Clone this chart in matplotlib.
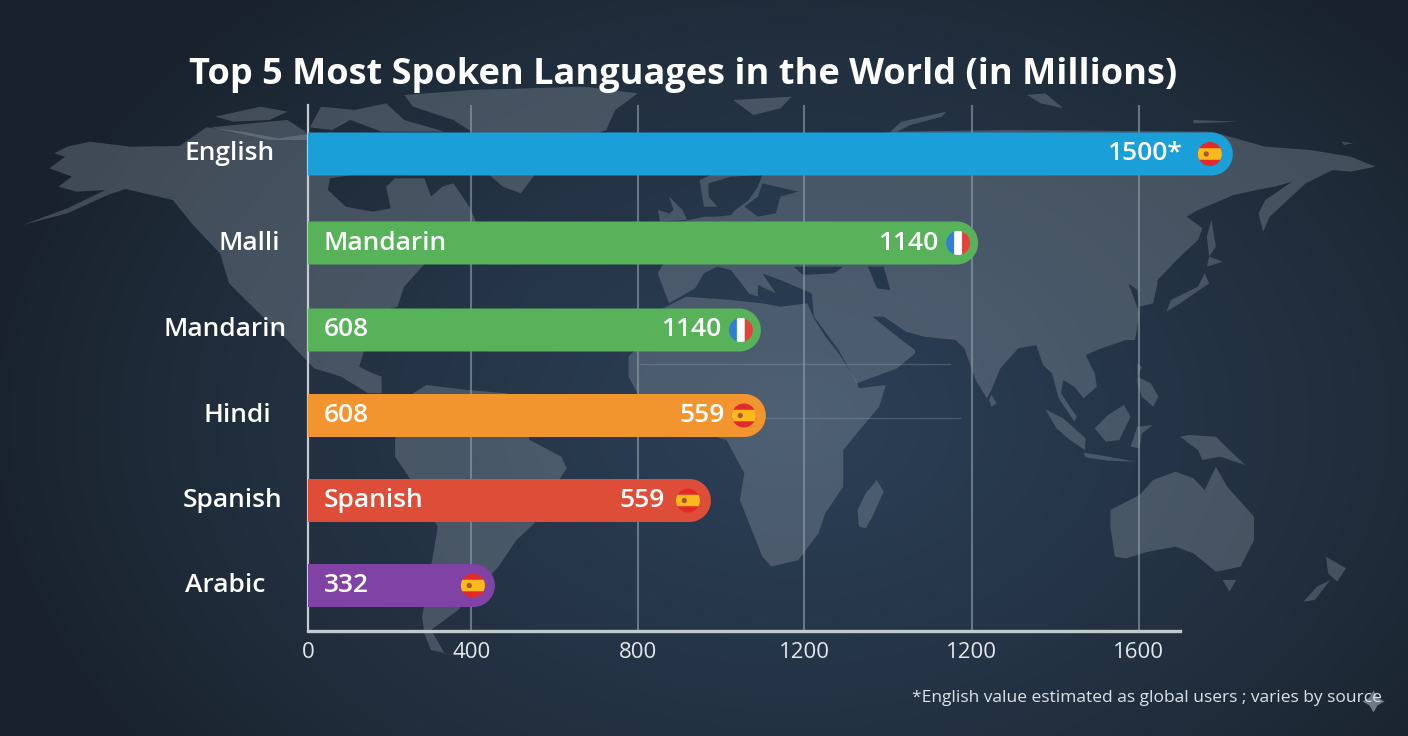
import numpy as np
import matplotlib
matplotlib.use('Agg')
import matplotlib.pyplot as plt
from matplotlib.path import Path
from matplotlib.patches import Circle, Polygon, PathPatch
from matplotlib.transforms import IdentityTransform

plt.rcParams['font.family'] = ['Open Sans', 'DejaVu Sans']

# chart values
languages = ['English', 'Malli', 'Mandarin', 'Hindi', 'Spanish', 'Arabic']
bar_lengths = [2222, 1610, 1088, 1100, 968, 449]
inner_labels = ['', 'Mandarin', '608', '608', 'Spanish', '332']
value_labels = ['1500*', '1140', '1140', '559', '559', '']
flags = ['es', 'fr', 'fr', 'es', 'es', 'es']
bar_colors = ['#1a9fd9', '#58b25a', '#58b25a', '#f2952f', '#dd4d38', '#8043a5']
tick_positions = [0, 392, 793, 1192, 1595, 1996]
tick_labels = ['0', '400', '800', '1200', '1200', '1600']

title = 'Top 5 Most Spoken Languages in the World (in Millions)'
footnote = '*English value estimated as global users ; varies by source'

# layout in pixels of the 1408x736 image
W, H = 1408, 736
bar_y = [154, 243, 330, 415.5, 500.5, 585.5]
label_x = [230, 249, 225, 237, 232, 225]
label_gap = [28, 20, 20, 19, 23, 0]
flag_gap = [23, 20, 20, 22, 23, 22]


def trace(x0, y0, pts):
    # polygons were traced on zoomed crops: x scale 2.227, y scale 3
    return [(x0 + x / 2.227, y0 + y / 3.0) for x, y in pts]


# world map, origin of the crop each outline was read from
m4 = lambda pts: trace(0, 40, pts)
m5 = lambda pts: trace(704, 40, pts)
m6 = lambda pts: trace(704, 340, pts)
m7 = lambda pts: trace(0, 340, pts)

land = [
    # north america
    m4([(110, 385), (145, 350), (120, 340), (150, 320), (200, 305), (290, 320), (400, 318), (460, 262), (540, 275),
        (620, 295), (700, 280), (1000, 300), (900, 380), (735, 415), (730, 450), (770, 500), (830, 515), (870, 505),
        (860, 440), (880, 415), (945, 415), (960, 470), (985, 440), (1010, 430), (1045, 500), (1060, 545), (940, 680),
        (900, 740), (885, 800), (860, 810), (835, 900), (810, 935), (800, 980), (830, 1000), (850, 1010), (850, 1060),
        (820, 1060), (760, 1010), (700, 985), (660, 930), (640, 900), (585, 830), (510, 730), (490, 640), (430, 555),
        (385, 480), (280, 447), (240, 465), (150, 520), (50, 555), (150, 505), (235, 450), (170, 455), (130, 440),
        (160, 410)]),
    # greenland
    m4([(1050, 275), (1010, 240), (920, 200), (900, 165), (1050, 150), (1300, 140), (1420, 160), (1370, 210),
        (1350, 270), (1290, 300), (1190, 405), (1160, 460), (1120, 440), (1090, 405), (1060, 300)]),
    # arctic islands
    m4([(690, 262), (715, 200), (790, 210), (860, 190), (900, 240), (990, 275), (850, 275), (780, 240), (740, 270)]),
    m4([(480, 230), (580, 200), (640, 215), (600, 240), (520, 245)]),
    m4([(470, 262), (560, 250), (640, 240), (680, 275), (690, 300), (600, 300)]),
    # south america
    m7([(920, 160), (950, 135), (1040, 150), (1130, 160), (1180, 300), (1250, 350), (1262, 385), (1245, 420),
        (1190, 550), (1150, 600), (1110, 680), (1020, 810), (960, 870), (990, 940), (1020, 948), (960, 930), (945, 880),
        (940, 830), (965, 640), (975, 560), (915, 420), (880, 350), (880, 290)]),
    # eurasia
    m5([(-103, 700), (-90, 670), (-60, 640), (-50, 545), (0, 530), (30, 530), (60, 525), (70, 510), (100, 480),
        (120, 440), (130, 405), (60, 410), (10, 430), (10, 470), (30, 500), (0, 500), (-10, 420), (60, 380), (300, 300),
        (420, 275), (680, 270), (1130, 275), (1250, 320), (1350, 330), (1440, 350), (1495, 380), (1440, 395),
        (1400, 390), (1340, 430), (1300, 480), (1260, 530), (1245, 575), (1235, 520), (1250, 480), (1310, 425),
        (1270, 440), (1230, 450), (1180, 465), (1100, 510), (1075, 530), (1110, 565), (1100, 600), (1060, 650),
        (1010, 720), (1010, 730), (1000, 790), (970, 800), (965, 750), (935, 720), (960, 700), (945, 730), (970, 820),
        (960, 900), (940, 900), (885, 925), (850, 945), (870, 1000), (875, 1040), (845, 1075), (825, 1040), (800, 1020),
        (795, 1060), (830, 1130), (825, 1145), (790, 1075), (775, 1000), (755, 975), (740, 915), (700, 925), (660, 985),
        (640, 1050), (630, 1075), (605, 1020), (580, 925), (560, 900), (490, 890), (450, 875), (400, 830), (375, 830),
        (440, 900), (470, 930), (470, 940), (430, 985), (340, 1030), (300, 930), (245, 830), (240, 760), (170, 720),
        (130, 700), (160, 760), (120, 735), (120, 770), (100, 760), (60, 690), (30, 680), (0, 700), (-20, 745),
        (-78, 790)]),
    # africa
    m5([(-98, 810), (-40, 770), (60, 780), (130, 790), (170, 800), (230, 790), (245, 835), (270, 890), (300, 940),
        (340, 1025), (345, 1045), (405, 1035), (390, 1100), (310, 1230), (310, 1340), (270, 1420), (255, 1480),
        (210, 1560), (150, 1580), (130, 1550), (80, 1380), (90, 1300), (50, 1200), (0, 1180), (-60, 1190), (-148, 1060),
        (-168, 1010), (-168, 950), (-118, 880)]),
    # islands
    m4([(1490, 470), (1520, 510), (1530, 540), (1470, 545), (1500, 510)]),
    m4([(1465, 510), (1490, 520), (1470, 545)]),
    m5([(415, 275), (440, 245), (540, 215), (530, 230), (460, 255), (430, 275)]),
    m5([(65, 180), (195, 170), (170, 205), (110, 225)]),
    m5([(720, 165), (760, 160), (800, 205), (750, 190)]),
    m5([(1090, 240), (1190, 245), (1090, 250)]),
    m5([(1420, 305), (1445, 310), (1425, 315)]),
    m5([(1130, 540), (1140, 620), (1125, 650), (1120, 590)]),
    m5([(1125, 650), (1155, 665), (1120, 680)]),
    m5([(1115, 700), (1125, 730), (1060, 790), (1030, 815), (1040, 780), (1100, 740)]),
    m6([(640, 165), (652, 190), (640, 200), (635, 180)]),
    m6([(385, 420), (400, 455), (375, 530), (360, 565), (345, 560), (342, 510), (360, 460)]),
    m6([(760, 208), (800, 235), (850, 295), (848, 330), (815, 300), (785, 265)]),
    m6([(845, 338), (900, 350), (960, 365), (900, 362), (850, 352)]),
    m6([(935, 195), (950, 230), (925, 300), (895, 305), (870, 265), (900, 225)]),
    m6([(965, 260), (1000, 255), (975, 280), (970, 325), (950, 320)]),
    m6([(965, 110), (995, 130), (1012, 170), (1000, 200), (975, 170), (965, 130)]),
    m6([(965, 70), (975, 80), (965, 110)]),
    m6([(1080, 285), (1140, 290), (1170, 330), (1205, 375), (1150, 350), (1110, 360), (1100, 330), (1060, 290)]),
    # australia, tasmania, new zealand
    m6([(905, 510), (970, 465), (1000, 420), (1050, 395), (1090, 415), (1115, 450), (1140, 380), (1165, 440),
        (1225, 530), (1225, 600), (1195, 680), (1140, 695), (1090, 640), (1050, 620), (990, 635), (940, 655),
        (915, 650), (905, 560)]),
    m6([(1155, 720), (1185, 720), (1170, 755)]),
    m6([(1385, 650), (1430, 685), (1410, 725), (1390, 700)]),
    m6([(1395, 720), (1360, 780), (1335, 785), (1365, 740)]),
]

# inland seas, painted back over the land
seas = [
    m5([(90, 500), (120, 470), (130, 430), (210, 455), (170, 470), (160, 520), (120, 530)]),
    m5([(200, 680), (310, 680), (290, 700), (220, 705)]),
    m5([(365, 680), (400, 680), (415, 750), (385, 745)]),
]

fig = plt.figure(figsize=(W / 100, H / 100), dpi=100)

# background glow and map, y runs downward in image pixels
bg = fig.add_axes([0, 0, 1, 1], zorder=0)
bg.set_xlim(0, W)
bg.set_ylim(H, 0)
bg.axis('off')
yy, xx = np.mgrid[0:H, 0:W]
dist = np.sqrt(((xx - 790) / 800.0) ** 2 + ((yy - 420) / 560.0) ** 2)
glow = np.clip(1 - dist, 0, 1)[..., None] ** 0.8
dark = np.array([0x19, 0x22, 0x2c]) / 255.0
light = np.array([0x2c, 0x40, 0x57]) / 255.0
bg.imshow(dark + (light - dark) * glow, extent=(0, W, H, 0), aspect='auto', zorder=0)
for pts in land:
    bg.add_patch(Polygon(pts, closed=True, facecolor='#aab6c0', alpha=0.27, edgecolor='none', zorder=1))
for pts in seas:
    bg.add_patch(Polygon(pts, closed=True, facecolor='#25384c', edgecolor='none', zorder=2))
bg.plot([640, 950], [364, 364], color='#8fa3b3', lw=1, alpha=0.3, zorder=2)
bg.plot([704, 960], [418, 418], color='#8fa3b3', lw=1, alpha=0.3, zorder=2)
bg.plot([1373], [701], marker=(4, 1, 0), ms=16, color='#b7c0c8', alpha=0.55, mew=0, zorder=2)

# the chart itself, x in axis units and y in image pixels
ax = fig.add_axes([308 / W, (H - 631) / H, 872 / W, 526 / H], zorder=1)
ax.patch.set_alpha(0)
ax.set_xlim(0, 2095)
ax.set_ylim(631, 105)
ax.set_yticks([])
ax.set_xticks(tick_positions)
ax.set_xticklabels(tick_labels, fontsize=16, color='#e4e8eb')
ax.tick_params(axis='x', length=0, pad=8)
ax.grid(axis='x', color='#8c9aa7', lw=1.5, alpha=0.65)
ax.set_axisbelow(True)
ax.spines['top'].set_visible(False)
ax.spines['right'].set_visible(False)
ax.spines['left'].set_color('#c3c9ce')
ax.spines['left'].set_linewidth(1.6)
ax.spines['bottom'].set_color('#c3c9ce')
ax.spines['bottom'].set_linewidth(2.4)

rects = ax.barh(bar_y, bar_lengths, height=43, color=bar_colors)
fig.canvas.draw()

# overlay in image pixels for rounded ends, flags and text
top = fig.add_axes([0, 0, 1, 1], zorder=2)
top.set_xlim(0, W)
top.set_ylim(H, 0)
top.axis('off')


def rounded_bar(rect):
    """ Swaps a bar for the same box with a round right end. """
    (x0, y0), (x1, y1) = ax.transData.transform(
        [(rect.get_x(), rect.get_y()), (rect.get_x() + rect.get_width(), rect.get_y() + rect.get_height())])
    y0, y1 = min(y0, y1), max(y0, y1)
    r = (y1 - y0) / 2.0
    a = np.linspace(-np.pi / 2, np.pi / 2, 40)
    arc = np.column_stack([x1 - r + r * np.cos(a), (y0 + y1) / 2 + r * np.sin(a)])
    verts = np.vstack([[x0, y0], arc, [x0, y1]])
    patch = PathPatch(Path(np.vstack([verts, verts[0]]), closed=True), facecolor=rect.get_facecolor(),
                      edgecolor='none', transform=IdentityTransform(), zorder=3)
    fig.add_artist(patch)
    patch.set_zorder(1.5)
    rect.set_visible(False)
    return x1


def chord_band(cx, cy, r, a, b, vertical=False):
    # slice of the flag circle between offsets a and b
    t = np.linspace(a, b, 20)
    w = np.sqrt(np.maximum(r * r - t * t, 0))
    if vertical:
        return np.vstack([np.column_stack([cx + t, cy - w]), np.column_stack([cx + t[::-1], cy + w[::-1]])])
    return np.vstack([np.column_stack([cx - w, cy + t]), np.column_stack([cx + w[::-1], cy + t[::-1]])])


def draw_flag(kind, cx, cy, r=12):
    if kind == 'es':
        top.add_patch(Circle((cx, cy), r, facecolor='#e32a2a', edgecolor='none'))
        top.add_patch(Polygon(chord_band(cx, cy, r, -r * 0.48, r * 0.48), facecolor='#fbb91d', edgecolor='none'))
        top.add_patch(Circle((cx - r * 0.3, cy), r * 0.22, facecolor='#a8563a', edgecolor='none'))
    else:
        top.add_patch(Polygon(chord_band(cx, cy, r, -r, -r * 0.33, True), facecolor='#2f7fd6', edgecolor='none'))
        top.add_patch(Polygon(chord_band(cx, cy, r, -r * 0.33, r * 0.33, True), facecolor='#ffffff', edgecolor='none'))
        top.add_patch(Polygon(chord_band(cx, cy, r, r * 0.33, r, True), facecolor='#e8413a', edgecolor='none'))


for i, rect in enumerate(rects):
    x_end = rounded_bar(rect)
    y = bar_y[i]
    flag_x = x_end - flag_gap[i]
    draw_flag(flags[i], flag_x, y)
    top.text(label_x[i], y, languages[i], color='white', fontsize=19, fontweight='semibold', ha='center', va='center')
    top.text(324, y, inner_labels[i], color='white', fontsize=19, fontweight='semibold', ha='left', va='center')
    top.text(flag_x - label_gap[i], y, value_labels[i], color='white', fontsize=19, fontweight='semibold',
             ha='right', va='center')

top.text(683, 75, title, color='white', fontsize=26, fontweight='bold', ha='center', va='center')
top.text(1147, 698, footnote, color='#dde2e6', fontsize=12.5, ha='center', va='center')

fig.savefig('out.png', dpi=100)
